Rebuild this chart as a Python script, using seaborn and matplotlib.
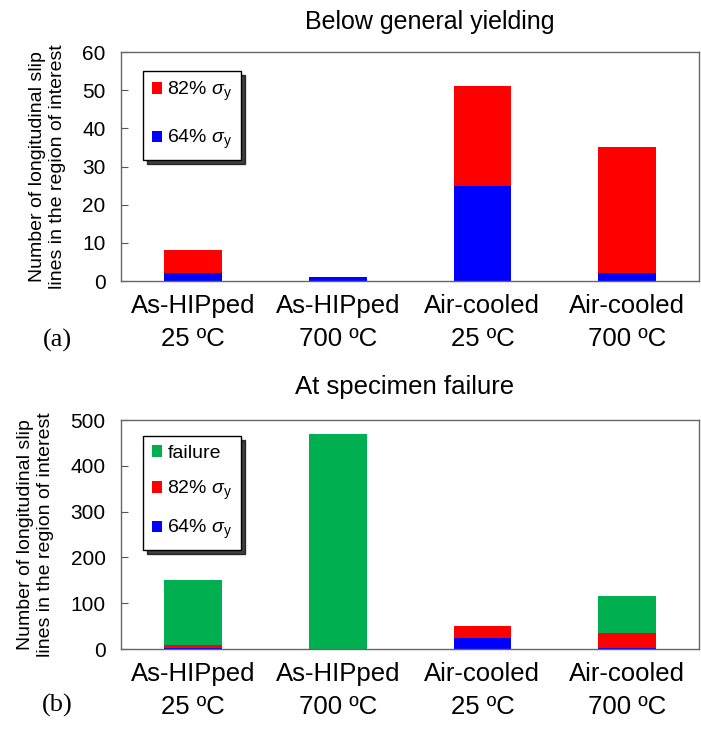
import matplotlib
matplotlib.use("Agg")
import matplotlib.pyplot as plt
import seaborn as sns
import pandas as pd

# ============ datos =============
condiciones = ["As-HIPped\n25 ºC", "As-HIPped\n700 ºC", "Air-cooled\n25 ºC", "Air-cooled\n700 ºC"]
lineas_64 = [2, 1, 25, 2]        # 64% sigma_y (acumulado)
lineas_82 = [8, 1, 51, 35]       # 82% sigma_y (acumulado)
lineas_falla = [150, 470, 51, 115]  # a la falla (acumulado)

df = pd.DataFrame({
    "condicion": condiciones,
    "s64": lineas_64,
    "s82": lineas_82,
    "falla": lineas_falla,
})

sns.set_style("white")
plt.rcParams["font.family"] = ["Liberation Sans", "DejaVu Sans"]
plt.rcParams["mathtext.fontset"] = "custom"
plt.rcParams["mathtext.rm"] = "Liberation Sans"
plt.rcParams["mathtext.it"] = "Liberation Sans:italic"
for k in ["text.color", "axes.labelcolor", "xtick.color", "ytick.color"]:
    plt.rcParams[k] = "black"

ROJO = "#FF0000"
AZUL = "#0000FF"
VERDE = "#00B050"

fig = plt.figure(figsize=(7.01, 7.29), dpi=100)
ax1 = fig.add_axes([0.1726, 0.6145, 0.825, 0.3141])
ax2 = fig.add_axes([0.1726, 0.1097, 0.825, 0.3141])

barra = dict(width=0.4, saturation=1, linewidth=0, edgecolor="none")


def estilo(ax, ymax, paso):
    ax.set_ylim(0, ymax)
    ax.set_xlim(-0.5, 3.5)
    ax.set_yticks(range(0, ymax + 1, paso))
    ax.set_xticks([0.5, 1.5, 2.5], minor=True)
    ax.tick_params(axis="x", which="major", length=0, labelsize=18.5, pad=9)
    ax.tick_params(axis="x", which="minor", direction="in", length=5, color="#555555")
    ax.tick_params(axis="y", direction="in", length=5, labelsize=15, color="#555555", pad=11, left=True)
    for t in ax.get_xticklabels():
        t.set_linespacing(1.5)
    for s in ax.spines.values():
        s.set_color("#666666")
        s.set_linewidth(1.0)
    ax.set_xlabel("")
    ax.set_ylabel("Number of longitudinal slip\nlines in the region of interest", fontsize=14,
                  labelpad=12, linespacing=1.2)


def leyenda(ax, y0, esp):
    leg = ax.legend(loc="upper left", bbox_to_anchor=(0.038, y0), borderaxespad=0, fontsize=14,
                    frameon=True, fancybox=False, shadow={"color": "black", "alpha": 0.75, "ox": 3, "oy": -3},
                    handlelength=0.55, handleheight=0.55, handletextpad=0.25, labelspacing=esp,
                    borderpad=0.45, edgecolor="black", framealpha=1)
    leg.get_frame().set_linewidth(1.0)
    return leg


# ===== grafica (a): antes de fluencia general =====
sns.barplot(data=df, x="condicion", y="s82", color=ROJO, ax=ax1, label=r"82% $\sigma_\mathrm{y}$", **barra)
sns.barplot(data=df, x="condicion", y="s64", color=AZUL, ax=ax1, label=r"64% $\sigma_\mathrm{y}$", **barra)
estilo(ax1, 60, 10)
leyenda(ax1, 0.917, 1.3)

# ===== grafica (b): a la falla =====
sns.barplot(data=df, x="condicion", y="falla", color=VERDE, ax=ax2, label="failure", **barra)
sns.barplot(data=df, x="condicion", y="s82", color=ROJO, ax=ax2, label=r"82% $\sigma_\mathrm{y}$", **barra)
sns.barplot(data=df, x="condicion", y="s64", color=AZUL, ax=ax2, label=r"64% $\sigma_\mathrm{y}$", **barra)
estilo(ax2, 500, 100)
leyenda(ax2, 0.93, 0.85)

# Titulos y etiquetas de panel
fig.text(430 / 701, 1 - 22 / 729, "Below general yielding", ha="center", va="center", fontsize=18)
fig.text(405 / 701, 1 - 387 / 729, "At specimen failure", ha="center", va="center", fontsize=18.5)
fig.text(57 / 701, 1 - 340 / 729, "(a)", ha="center", va="center", fontsize=19, family="Liberation Serif")
fig.text(57 / 701, 1 - 705 / 729, "(b)", ha="center", va="center", fontsize=19, family="Liberation Serif")

fig.savefig("out.png", dpi=100, facecolor="white")
